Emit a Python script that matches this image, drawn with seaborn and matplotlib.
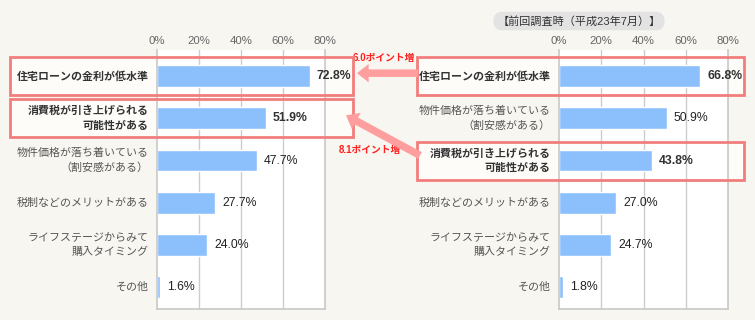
import matplotlib
matplotlib.use("Agg")
import matplotlib.pyplot as plt
import matplotlib.transforms as mtransforms
from matplotlib.patches import Rectangle, ConnectionPatch
import seaborn as sns

# 今回調査
current_labels = ["住宅ローンの金利が低水準", "消費税が引き上げられる\n可能性がある",
                  "物件価格が落ち着いている\n（割安感がある）", "税制などのメリットがある",
                  "ライフステージからみて\n購入タイミング", "その他"]
current_values = [72.8, 51.9, 47.7, 27.7, 24.0, 1.6]

# 前回調査時（平成23年7月）
previous_labels = ["住宅ローンの金利が低水準", "物件価格が落ち着いている\n（割安感がある）",
                   "消費税が引き上げられる\n可能性がある", "税制などのメリットがある",
                   "ライフステージからみて\n購入タイミング", "その他"]
previous_values = [66.8, 50.9, 43.8, 27.0, 24.7, 1.8]

highlight = ["住宅ローンの金利が低水準", "消費税が引き上げられる\n可能性がある"]
x_ticks = [0, 20, 40, 60, 80]
title_prev = "【前回調査時（平成23年7月）】"

BG = "#f7f6f0"
BAR = "#8cc0fc"
RED = "#f27d7d"
ARROW = "#ff9e9e"

sns.set_theme(style="white")
plt.rcParams["font.family"] = ["Liberation Sans", "Noto Sans CJK JP", "DejaVu Sans"]

W, H = 755, 320
fig = plt.figure(figsize=(W / 100, H / 100), dpi=100, facecolor=BG)


def px(x0, y0, w, h):
    return [x0 / W, 1 - (y0 + h) / H, w / W, h / H]


ax_l = fig.add_axes(px(157, 50, 168, 259))
ax_r = fig.add_axes(px(559, 50, 169, 259))


def draw(ax, labels, values):
    sns.barplot(x=values, y=labels, orient="h", color=BAR, width=0.52,
                saturation=1, ax=ax)
    ax.set_xlim(0, 80)
    ax.set_ylim(5.52, -0.62)
    ax.set_facecolor("white")
    ax.xaxis.tick_top()
    ax.set_xticks(x_ticks)
    ax.set_xticklabels([f"{t}%" for t in x_ticks])
    ax.tick_params(axis="x", length=0, pad=3, labelsize=8.2, labelcolor="#666666")
    ax.tick_params(axis="y", length=0, labelleft=False)
    ax.set_xlabel("")
    ax.set_ylabel("")
    for x in x_ticks[1:-1]:
        ax.axvline(x, color="#cccccc", lw=1, zorder=0)
    for s in ["left", "bottom", "right"]:
        ax.spines[s].set_color("#c8c8c8")
        ax.spines[s].set_linewidth(1.2)
    ax.spines["top"].set_visible(False)
    for i, (lab, v) in enumerate(zip(labels, values)):
        bold = lab in highlight
        # カテゴリ名
        ax.annotate(lab, (0, i), xytext=(-6, 0), textcoords="offset points",
                    va="center", ha="right", fontsize=7.9, linespacing=1.55,
                    fontweight="bold" if bold else "normal",
                    color="#333333" if bold else "#555555", annotation_clip=False)
        # 値
        ax.annotate(f"{v:.1f}%", (v, i), xytext=(5, 0), textcoords="offset points",
                    va="center", ha="left", fontsize=8.8,
                    fontweight="bold" if bold else "normal",
                    color="#333333" if bold else "#222222")


draw(ax_l, current_labels, current_values)
draw(ax_r, previous_labels, previous_values)


# 強調枠
def box(ax, row, x0, x1):
    tr = mtransforms.blended_transform_factory(fig.transFigure, ax.transData)
    fill = Rectangle((x0 / W, row - 0.45), (x1 - x0) / W, 0.9, transform=tr,
                     facecolor="#fdfcf9", edgecolor="none", zorder=-1)
    edge = Rectangle((x0 / W, row - 0.45), (x1 - x0) / W, 0.9, transform=tr,
                     facecolor="none", edgecolor=RED, lw=2, zorder=5)
    fig.add_artist(fill)
    fig.add_artist(edge)


for lab in highlight:
    box(ax_l, current_labels.index(lab), 10, 353)
    box(ax_r, previous_labels.index(lab), 417, 744)

# 矢印
tr_l = mtransforms.blended_transform_factory(fig.transFigure, ax_l.transData)
tr_r = mtransforms.blended_transform_factory(fig.transFigure, ax_r.transData)
arrow_style = "simple,head_width=1.1,head_length=0.7,tail_width=0.45"

a, b = current_labels.index(highlight[0]), previous_labels.index(highlight[0])
fig.add_artist(ConnectionPatch((418 / W, b - 0.07), (357 / W, a - 0.07),
                               coordsA=tr_r, coordsB=tr_l, arrowstyle=arrow_style,
                               mutation_scale=12, color=ARROW, lw=0, zorder=6))
diff = current_values[a] - previous_values[b]
fig.text(384 / W, a - 0.43, f"{diff:.1f}ポイント増", transform=tr_l, ha="center",
         va="center", fontsize=7, fontweight="bold", color="#ff2020")

a, b = current_labels.index(highlight[1]), previous_labels.index(highlight[1])
fig.add_artist(ConnectionPatch((420 / W, b - 0.12), (346 / W, a - 0.07),
                               coordsA=tr_r, coordsB=tr_l, arrowstyle=arrow_style,
                               mutation_scale=12, color=ARROW, lw=0, zorder=6))
diff = current_values[a] - previous_values[b]
fig.text(370 / W, b - 0.24, f"{diff:.1f}ポイント増", transform=tr_l, ha="center",
         va="center", fontsize=7, fontweight="bold", color="#ff2020")

# 前回調査時タイトル
fig.text(579 / W, 1 - 21 / H, title_prev, ha="center", va="center", fontsize=8,
         color="#333333",
         bbox=dict(boxstyle="round,pad=0.35,rounding_size=0.8",
                   facecolor="#e3e3e3", edgecolor="none"))

fig.savefig("out.png", dpi=100, facecolor=BG)
